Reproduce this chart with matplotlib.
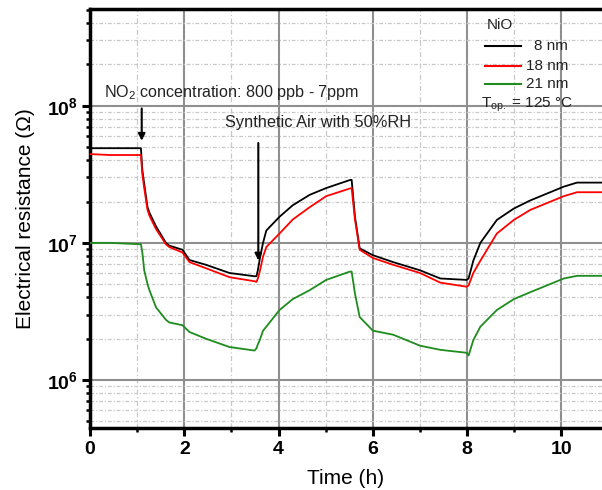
import matplotlib
matplotlib.use('Agg')
import matplotlib.pyplot as plt
from matplotlib.ticker import FixedLocator, NullFormatter, FixedFormatter

plt.rcParams['font.family'] = ['Liberation Sans', 'DejaVu Sans']
plt.rcParams['mathtext.fontset'] = 'custom'
plt.rcParams['mathtext.rm'] = 'Liberation Sans'
plt.rcParams['mathtext.it'] = 'Liberation Sans:italic'
plt.rcParams['mathtext.bf'] = 'Liberation Sans:bold'

# ---- data ----
time_h = [0, 0.42, 1.08, 1.11, 1.15, 1.22, 1.26, 1.40, 1.61, 1.68, 1.96, 2.11, 2.46,
          2.96, 3.49, 3.53, 3.56, 3.60, 3.67, 3.74, 4.02, 4.30, 4.66, 5.01, 5.51,
          5.55, 5.62, 5.72, 6.00, 6.43, 7.00, 7.43, 7.99, 8.03, 8.13, 8.28, 8.63,
          8.99, 9.34, 10.05, 10.33, 10.87]

r_8nm = [4.9e7, 4.9e7, 4.9e7, 3.39e7, 2.69e7, 1.82e7, 1.66e7, 1.32e7, 1.0e7, 9.55e6,
         8.91e6, 7.50e6, 6.92e6, 6.03e6, 5.71e6, 5.71e6, 6.31e6, 7.59e6, 1.0e7, 1.23e7,
         1.55e7, 1.88e7, 2.24e7, 2.51e7, 2.87e7, 2.88e7, 1.55e7, 9.12e6, 8.13e6, 7.24e6,
         6.31e6, 5.50e6, 5.37e6, 5.5e6, 7.41e6, 1.0e7, 1.47e7, 1.78e7, 2.04e7, 2.57e7,
         2.75e7, 2.75e7]

r_18nm = [4.44e7, 4.37e7, 4.37e7, 3.16e7, 2.51e7, 1.74e7, 1.58e7, 1.26e7, 9.77e6, 9.33e6,
          8.51e6, 7.24e6, 6.53e6, 5.62e6, 5.25e6, 5.19e6, 5.50e6, 6.17e6, 7.94e6, 9.33e6,
          1.17e7, 1.48e7, 1.82e7, 2.19e7, 2.49e7, 2.51e7, 1.48e7, 8.91e6, 7.76e6, 6.92e6,
          6.03e6, 5.13e6, 4.79e6, 4.9e6, 6.03e6, 7.41e6, 1.17e7, 1.47e7, 1.74e7, 2.19e7,
          2.34e7, 2.34e7]

r_21nm = [1.0e7, 1.0e7, 9.77e6, 8.51e6, 6.31e6, 5.01e6, 4.52e6, 3.39e6, 2.75e6, 2.63e6,
          2.51e6, 2.24e6, 2.0e6, 1.74e6, 1.64e6, 1.70e6, 1.82e6, 1.95e6, 2.29e6, 2.45e6,
          3.24e6, 3.89e6, 4.52e6, 5.37e6, 6.17e6, 6.17e6, 4.27e6, 2.88e6, 2.29e6, 2.14e6,
          1.78e6, 1.66e6, 1.58e6, 1.51e6, 1.95e6, 2.45e6, 3.24e6, 3.89e6, 4.37e6, 5.50e6,
          5.75e6, 5.75e6]

series_labels = ['8 nm', '18 nm', '21 nm']
series_colors = ['black', '#ff0000', '#1e8c1e']
x_ticks = [0, 2, 4, 6, 8, 10]
x_minor = [1, 3, 5, 7, 9]
y_ticks = [1e6, 1e7, 1e8]
y_ticklabels = [r'$\mathbf{10^{6}}$', r'$\mathbf{10^{7}}$', r'$\mathbf{10^{8}}$']

# ---- figure ----
fig = plt.figure(figsize=(6.02, 4.90), dpi=100)
ax = fig.add_axes([90/602, 1-428/490, 512/602, 419/490])
ax.set_yscale('log')

for vals, col in zip([r_8nm, r_18nm, r_21nm], series_colors):
    ax.plot(time_h, vals, color=col, lw=1.3, zorder=3)

ax.set_xlim(0, 10.86)
ax.set_ylim(4.47e5, 5.07e8)

# ticks
ax.xaxis.set_major_locator(FixedLocator(x_ticks))
ax.xaxis.set_minor_locator(FixedLocator(x_minor))
ax.xaxis.set_minor_formatter(NullFormatter())
ax.yaxis.set_major_locator(FixedLocator(y_ticks))
ax.yaxis.set_major_formatter(FixedFormatter(y_ticklabels))
ym = [m * 10**e for e in range(5, 9) for m in range(2, 10)]
ax.yaxis.set_minor_locator(FixedLocator(ym))
ax.yaxis.set_minor_formatter(NullFormatter())
ax.tick_params(which='major', direction='out', length=6, width=2.2, labelsize=14, pad=3)
ax.tick_params(which='minor', direction='out', length=3, width=1.8)
for lab in ax.get_xticklabels():
    lab.set_fontweight('bold')

# grid
ax.grid(True, which='major', color='#8f8f8f', lw=1.5, ls='-', zorder=1)
ax.grid(True, which='minor', axis='y', color='#c8c8c8', lw=0.9, ls=(0, (3, 1.5, 1, 1.5)), zorder=1)
ax.grid(True, which='minor', axis='x', color='#c8c8c8', lw=0.9, ls=(0, (4, 2, 1, 2)), zorder=1)

# spines
for s in ['left', 'bottom', 'top']:
    ax.spines[s].set_linewidth(2.5)
ax.spines['right'].set_visible(False)

ax.set_xlabel('Time (h)', fontsize=15, labelpad=8)
ax.set_ylabel('Electrical resistance (\u03a9)', fontsize=15, labelpad=8)

# annotations
ax.text(0.297, 1.24e8, r'NO$_2$ concentration: 800 ppb - 7ppm', fontsize=11.6,
        va='center', ha='left', color='#222222')
ax.annotate('', xy=(1.097, 5.3e7), xytext=(1.097, 1.0e8),
            arrowprops=dict(arrowstyle='-|>', color='black', lw=1.5, mutation_scale=10))
ax.text(2.86, 7.48e7, 'Synthetic Air with 50%RH', fontsize=11.8, va='center', ha='left',
        color='#222222')
ax.annotate('', xy=(3.57, 7.1e6), xytext=(3.57, 5.6e7),
            arrowprops=dict(arrowstyle='-|>', color='black', lw=1.5, mutation_scale=10))

# legend (manual)
tr = ax.transAxes
ax.text(0.774, 0.962, 'NiO', transform=tr, fontsize=11, va='center', ha='left', color='#222222')
leg_y = [0.912, 0.864, 0.820]
for y, col, lab in zip(leg_y, series_colors, series_labels):
    ax.plot([0.771, 0.842], [y, y], color=col, lw=1.5, transform=tr, zorder=4)
    ax.text(0.934, y, lab, transform=tr, fontsize=11, va='center', ha='right', color='#222222')
ax.text(0.764, 0.771, 'T$_{\\mathrm{op.}}$ = 125 \u00b0C', transform=tr, fontsize=11,
        va='center', ha='left', color='#222222')

fig.savefig('out.png', dpi=100)
